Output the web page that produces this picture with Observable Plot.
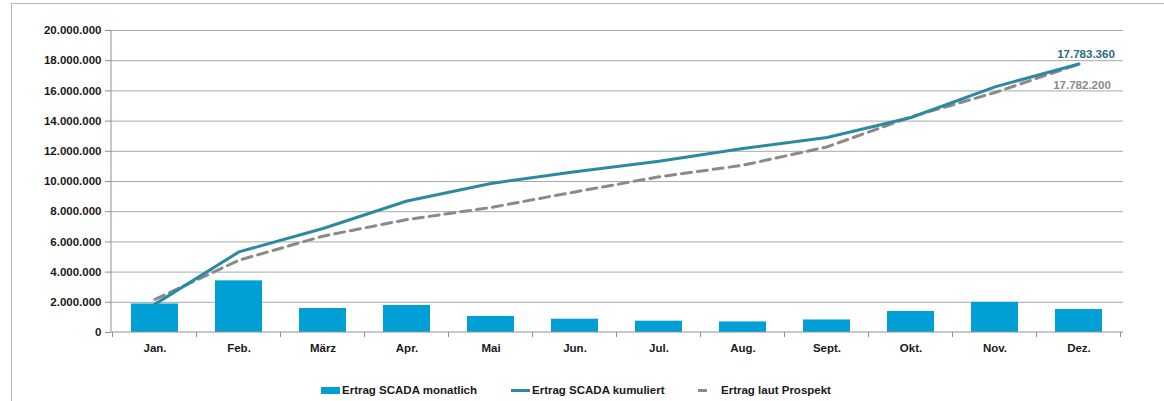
<!DOCTYPE html>
<html>
<head>
<meta charset="utf-8">
<script src="https://cdn.jsdelivr.net/npm/d3@7"></script>
<script src="https://cdn.jsdelivr.net/npm/@observablehq/plot@0.6"></script>
<style>
  html, body { margin: 0; padding: 0; background: #fff; }
  #wrap { position: relative; width: 1164px; height: 401px; overflow: hidden; font-family: "Liberation Sans", Arial, sans-serif; }
  #frame { position: absolute; left: 11px; top: 3px; width: 1170px; height: 420px; border: 1px solid #b8b8b8; box-sizing: border-box; }
  #chart { position: absolute; left: 0; top: 0; }
  g[aria-label^="x-axis"] text, g[aria-label^="y-axis"] text { fill: #1a1a1a; }
  .leg { position: absolute; top: 383px; height: 14px; display: flex; align-items: center; font: bold 11.5px "Liberation Sans", Arial, sans-serif; color: #1a1a1a; white-space: nowrap; }
  .sw { position: absolute; }
</style>
</head>
<body>
<div id="wrap">
  <div id="frame"></div>
  <div id="chart"></div>
  <div id="legend"></div>
</div>
<script>
const months = ["Jan.", "Feb.", "März", "Apr.", "Mai", "Jun.", "Jul.", "Aug.", "Sept.", "Okt.", "Nov.", "Dez."];
const monatlich = [1890000, 3420000, 1590000, 1790000, 1060000, 880000, 750000, 700000, 830000, 1390000, 2000000, 1520000];
const kumuliert = [1880000, 5340000, 6890000, 8710000, 9870000, 10640000, 11340000, 12190000, 12910000, 14240000, 16270000, 17783360];
const prospekt = [2200000, 4790000, 6380000, 7480000, 8280000, 9310000, 10310000, 11080000, 12290000, 14280000, 15890000, 17782200];
const yTicks = [0, 2000000, 4000000, 6000000, 8000000, 10000000, 12000000, 14000000, 16000000, 18000000, 20000000];
const seriesNames = ["Ertrag SCADA monatlich", "Ertrag SCADA kumuliert", "Ertrag laut Prospekt"];

const colBar = "#009fd6", colCum = "#2b8aa2", colCumLabel = "#276b80", colPro = "#8a8a8a", colGrid = "#a8a8a8";

const de = d3.formatLocale({decimal: ",", thousands: ".", grouping: [3], currency: ["", " €"]});
const fmt = de.format(",d");

const rows = months.map((m, i) => ({m, monat: monatlich[i], kum: kumuliert[i], pro: prospekt[i]}));
const last = rows[rows.length - 1];

function axisLines(index, {x, y}) {
  const g = d3.create("svg:g");
  const step = x.step(), bw = x.bandwidth(), half = (step - bw) / 2;
  const [r0, r1] = x.range();
  const y0 = y(0), yTop = y(yTicks[yTicks.length - 1]);
  const bounds = months.map(m => x(m) - half).concat([x(months[months.length - 1]) + bw + half]);
  g.append("line").attr("x1", r0).attr("x2", r0).attr("y1", yTop).attr("y2", y0).attr("stroke", "#909090");
  g.append("line").attr("x1", r0).attr("x2", r1).attr("y1", y0).attr("y2", y0).attr("stroke", "#909090");
  for (const b of bounds) g.append("line").attr("x1", b).attr("x2", b).attr("y1", y0).attr("y2", y0 + 5).attr("stroke", "#909090");
  return g.node();
}

const plot = Plot.plot({
  width: 1164,
  height: 372,
  marginLeft: 111,
  marginRight: 41,
  marginTop: 30,
  marginBottom: 40,
  style: {fontFamily: "'Liberation Sans', Arial, sans-serif", fontSize: "11.5px", fontWeight: "bold", color: "#909090", background: "transparent", overflow: "visible"},
  x: {domain: months, paddingInner: 0.44, paddingOuter: 0.22, tickSize: 0, tickPadding: 11, label: null},
  y: {domain: [0, 20000000], ticks: yTicks, tickFormat: fmt, tickSize: 6, tickPadding: 4, label: null},
  marks: [
    Plot.ruleY(yTicks.slice(1), {stroke: colGrid, strokeWidth: 1}),
    Plot.barY(rows, {x: "m", y: "monat", fill: colBar}),
    axisLines,
    Plot.line(rows, {x: "m", y: "pro", stroke: colPro, strokeWidth: 3, strokeDasharray: "10,6"}),
    Plot.line(rows, {x: "m", y: "kum", stroke: colCum, strokeWidth: 3}),
    Plot.text([last], {x: "m", y: "kum", text: d => fmt(d.kum), dx: 7, dy: -10, fill: colCumLabel, fontSize: 11.5, fontWeight: "bold"}),
    Plot.text([last], {x: "m", y: "pro", text: d => fmt(d.pro), dx: 3, dy: 21, fill: colPro, fontSize: 11.5, fontWeight: "bold"})
  ]
});
document.getElementById("chart").appendChild(plot);

const legend = document.getElementById("legend");
const items = [
  {name: seriesNames[0], left: 321, sw: `<span class="sw" style="left:0;top:3.5px;width:19px;height:7px;background:${colBar}"></span>`, textLeft: 21},
  {name: seriesNames[1], left: 511, sw: `<span class="sw" style="left:0;top:5.5px;width:19px;height:3px;background:${colCum}"></span>`, textLeft: 21},
  {name: seriesNames[2], left: 698, sw: `<span class="sw" style="left:0;top:5.5px;width:9px;height:3px;background:${colPro}"></span>`, textLeft: 23}
];
for (const it of items) {
  const d = document.createElement("div");
  d.className = "leg";
  d.style.left = it.left + "px";
  d.innerHTML = it.sw + `<span style="margin-left:${it.textLeft}px">${it.name}</span>`;
  legend.appendChild(d);
}
</script>
</body>
</html>
